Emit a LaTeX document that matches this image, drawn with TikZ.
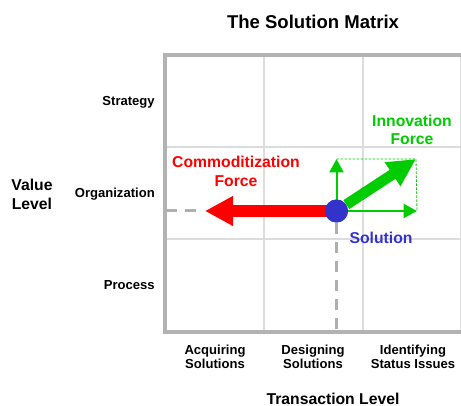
\documentclass[tikz,border=0pt]{standalone}
\usepackage{fontspec}
\setmainfont{Liberation Sans}
\usetikzlibrary{arrows.meta}
\definecolor{frameg}{RGB}{178,178,178}
\definecolor{gridg}{RGB}{220,220,220}
\definecolor{dashg}{RGB}{175,175,175}
\definecolor{igreen}{RGB}{0,204,0}
\definecolor{sblue}{RGB}{51,51,204}
\definecolor{cred}{RGB}{255,0,0}
\begin{document}
\begin{tikzpicture}[x=0.75pt,y=-0.75pt,
  gridline/.style={gridg, line width=0.9pt},
  frameline/.style={frameg, line width=2.6pt},
  guide/.style={dashg, line width=2.25pt, dash pattern=on 8.25pt off 6pt},
  thinarrow/.style={igreen, line width=1.5pt, -{Triangle[length=10pt,width=10.5pt]}},
  bigtext/.style={font=\fontsize{11.8pt}{14pt}\selectfont\bfseries, align=center, inner sep=0pt},
  smalltext/.style={font=\fontsize{9.8pt}{10.5pt}\selectfont\bfseries, align=center, inner sep=0pt},
]
\clip (0,0) rectangle (461,406);
% grid
\draw[gridline] (264,55) -- (264,332);
\draw[gridline] (363,55) -- (363,332);
\draw[gridline] (460.5,55) -- (460.5,332);
\draw[gridline] (165,147) -- (470,147);
\draw[gridline] (165,239) -- (470,239);
% frame
\draw[frameline] (470,55) -- (165,55) -- (165,332) -- (470,332);
% solution point
\node[circle, fill=sblue, minimum size=17.25pt, inner sep=0pt] (sol) at (336.5,211) {};
\coordinate (fl) at (166,211);
\coordinate (redtip) at (205,211);
\coordinate (fb) at (336.5,331);
\coordinate (vt) at (336.5,159);
\coordinate (ht) at (417,211);
\coordinate (corner) at (416,159);
% guides
\draw[guide] (fl) -- (200,211);
\draw[guide] (sol.south) -- (fb);
% dotted green rectangle
\draw[igreen, line width=0.6pt, dash pattern=on 1.8pt off 1.2pt] (vt) -- (corner) -- (ht);
% thin green arrows
\draw[thinarrow] (sol.center) -- (vt);
\draw[thinarrow] (sol.center) -- (ht);
% red arrow
\draw[cred, line width=9.5pt, -{Triangle[length=21pt,width=21pt]}] (sol.center) -- (redtip);
% green thick arrow
\draw[igreen, line width=8pt, -{Triangle[length=21pt,width=20pt]}] (sol.33.7) -- (corner);
% circle on top
\fill[sblue] (sol.center) circle (8.6pt);
% texts
\node[font=\fontsize{13.9pt}{16pt}\selectfont\bfseries, inner sep=0pt] (title) at (313,22) {The Solution Matrix};
\node[smalltext, anchor=east] (strat) at (155,102) {Strategy};
\node[smalltext, anchor=east] (org) at (155,194) {Organization};
\node[smalltext, anchor=east] (proc) at (155,285) {Process};
\node[bigtext] (vlev) at (32,194.5) {Value\\Level};
\node[smalltext] (acq) at (215,356.5) {Acquiring\\Solutions};
\node[smalltext] (des) at (313,356.5) {Designing\\Solutions};
\node[smalltext] (idn) at (413,356.5) {Identifying\\Status Issues};
\node[bigtext] (tlev) at (333,399) {Transaction Level};
\node[bigtext, text=cred] (cf) at (236,171.5) {Commoditization\\Force};
\node[bigtext, text=igreen] (inf) at (412,130) {Innovation\\Force};
\node[bigtext, text=sblue] (soltext) at (381,238) {Solution};
\end{tikzpicture}
\end{document}
